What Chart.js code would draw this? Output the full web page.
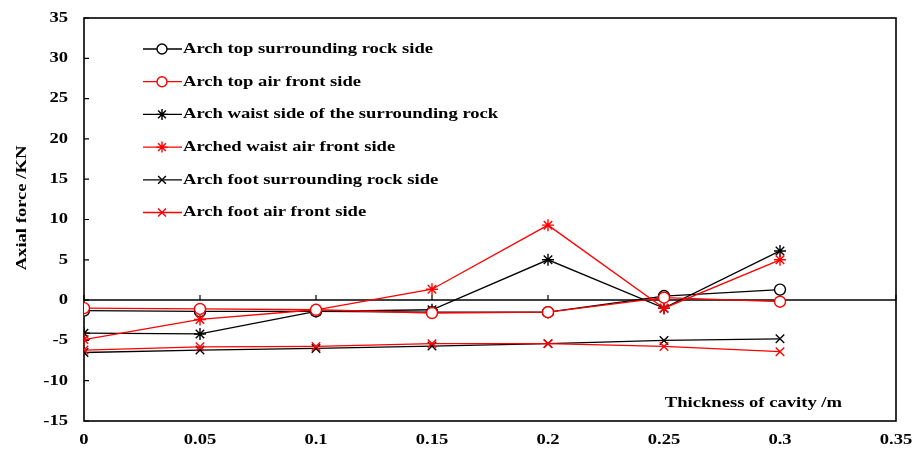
<!DOCTYPE html>
<html>
<head>
<meta charset="utf-8">
<script src="https://cdn.jsdelivr.net/npm/chart.js@4/dist/chart.umd.min.js"></script>
<style>
  html, body { margin: 0; padding: 0; background: #fff; }
  #wrap { width: 918px; height: 450px; }
</style>
</head>
<body>
<div id="wrap"><canvas id="c" width="918" height="450"></canvas></div>
<script>
// ---- data ----
const thickness = [0, 0.05, 0.1, 0.15, 0.2, 0.25, 0.3];
const xTickLabels = ["0", "0.05", "0.1", "0.15", "0.2", "0.25", "0.3", "0.35"];
const yTickLabels = ["-15", "-10", "-5", "0", "5", "10", "15", "20", "25", "30", "35"];
const seriesNames = [
  "Arch top surrounding rock side",
  "Arch top air front side",
  "Arch waist side of the surrounding rock",
  "Arched waist air front side",
  "Arch foot surrounding rock side",
  "Arch foot air front side"
];
const archTopRock   = [-1.3, -1.4, -1.4, -1.5, -1.5, 0.5, 1.3];
const archTopAir    = [-1.0, -1.1, -1.2, -1.6, -1.5, 0.3, -0.2];
const archWaistRock = [-4.1, -4.2, -1.4, -1.2, 5.0, -1.0, 6.1];
const archWaistAir  = [-4.9, -2.4, -1.2, 1.35, 9.3, -1.0, 5.0];
const archFootRock  = [-6.5, -6.2, -6.0, -5.7, -5.4, -5.0, -4.8];
const archFootAir   = [-6.2, -5.8, -5.75, -5.4, -5.4, -5.75, -6.4];

const seriesValues = [archTopRock, archTopAir, archWaistRock, archWaistAir, archFootRock, archFootAir];
const colors = ["#000000", "#ff0000", "#000000", "#ff0000", "#000000", "#ff0000"];
const styles = ["circle", "circle", "star", "star", "crossRot", "crossRot"];

const FONT = '"Liberation Serif", "Times New Roman", serif';
const STRETCH = 1.24;

const datasets = seriesValues.map((vals, i) => ({
  label: seriesNames[i],
  data: vals.map((v, k) => ({ x: thickness[k], y: v })),
  borderColor: colors[i],
  backgroundColor: "#ffffff",
  pointBorderColor: colors[i],
  pointBackgroundColor: "#ffffff",
  pointStyle: styles[i],
  pointRadius: styles[i] === "circle" ? 5.5 : 6,
  pointBorderWidth: 1.4,
  borderWidth: 1.3,
  tension: 0,
  fill: false,
  order: colors[i] === "#ff0000" ? 0 : 1
}));

function stretchedText(ctx, text, x, y, align, rotate) {
  ctx.save();
  ctx.translate(x, y);
  if (rotate) ctx.rotate(rotate);
  ctx.scale(STRETCH, 1);
  ctx.textAlign = align;
  ctx.textBaseline = "middle";
  ctx.fillText(text, 0, 0);
  ctx.restore();
}

function drawMarker(ctx, style, x, y, r, color) {
  ctx.save();
  ctx.strokeStyle = color;
  ctx.lineWidth = 1.4;
  ctx.beginPath();
  if (style === "circle") {
    ctx.fillStyle = "#fff";
    ctx.arc(x, y, r, 0, Math.PI * 2);
    ctx.fill();
    ctx.stroke();
  } else {
    const d = r * Math.SQRT1_2;
    ctx.moveTo(x - d, y - d); ctx.lineTo(x + d, y + d);
    ctx.moveTo(x - d, y + d); ctx.lineTo(x + d, y - d);
    if (style === "star") {
      ctx.moveTo(x, y - r); ctx.lineTo(x, y + r);
      ctx.moveTo(x - r, y); ctx.lineTo(x + r, y);
    }
    ctx.stroke();
  }
  ctx.restore();
}

const framePlugin = {
  id: "frame",
  beforeDatasetsDraw(chart) {
    const { ctx, chartArea: a, scales } = chart;
    const y0 = scales.y.getPixelForValue(0);
    ctx.save();
    ctx.strokeStyle = "#000";
    ctx.lineWidth = 1.5;
    ctx.beginPath();
    ctx.moveTo(a.left, y0); ctx.lineTo(a.right, y0);
    ctx.stroke();
    ctx.lineWidth = 1.2;
    ctx.beginPath();
    scales.x.ticks.forEach(t => {
      const px = scales.x.getPixelForValue(t.value);
      ctx.moveTo(px, y0); ctx.lineTo(px, y0 - 5);
    });
    scales.y.ticks.forEach(t => {
      const py = scales.y.getPixelForValue(t.value);
      ctx.moveTo(a.left, py); ctx.lineTo(a.left + 5, py);
    });
    ctx.stroke();
    ctx.lineWidth = 1.6;
    ctx.strokeRect(a.left, a.top, a.right - a.left, a.bottom - a.top);
    ctx.restore();
  },
  afterDraw(chart) {
    const { ctx, chartArea: a, scales } = chart;
    ctx.save();
    ctx.fillStyle = "#000";
    ctx.font = "bold 15px " + FONT;
    scales.y.ticks.forEach((t, i) => {
      stretchedText(ctx, yTickLabels[i], 68, scales.y.getPixelForValue(t.value), "right");
    });
    scales.x.ticks.forEach((t, i) => {
      stretchedText(ctx, xTickLabels[i], scales.x.getPixelForValue(t.value), 440, "center");
    });
    stretchedText(ctx, "Thickness of cavity /m", 842, 403, "right");
    stretchedText(ctx, "Axial force /KN", 22, 208, "center", -Math.PI / 2);
    const x0 = 143, x1 = 182, mx = 162, ty0 = 49, step = 32.7;
    chart.data.datasets.forEach((ds, i) => {
      const y = ty0 + i * step;
      ctx.save();
      ctx.strokeStyle = ds.borderColor;
      ctx.lineWidth = 1.3;
      ctx.beginPath();
      ctx.moveTo(x0, y); ctx.lineTo(x1, y);
      ctx.stroke();
      ctx.restore();
      drawMarker(ctx, ds.pointStyle, mx, y, ds.pointStyle === "circle" ? 5 : 5.5, ds.borderColor);
      ctx.fillStyle = "#000";
      stretchedText(ctx, ds.label, 183, y, "left");
    });
    ctx.restore();
  }
};

new Chart(document.getElementById("c"), {
  type: "line",
  data: { datasets },
  plugins: [framePlugin],
  options: {
    responsive: false,
    animation: false,
    events: [],
    layout: { padding: { left: 0, right: 22, top: 18, bottom: 0 } },
    plugins: { legend: { display: false }, tooltip: { enabled: false } },
    scales: {
      x: {
        type: "linear",
        min: 0, max: 0.35,
        ticks: { stepSize: 0.05, display: false, autoSkip: false },
        grid: { display: false, drawTicks: false },
        border: { display: false },
        afterFit(s) { s.height = 29; }
      },
      y: {
        min: -15, max: 35,
        ticks: { stepSize: 5, display: false },
        grid: { display: false, drawTicks: false },
        border: { display: false },
        afterFit(s) { s.width = 84; }
      }
    }
  }
});
</script>
</body>
</html>
